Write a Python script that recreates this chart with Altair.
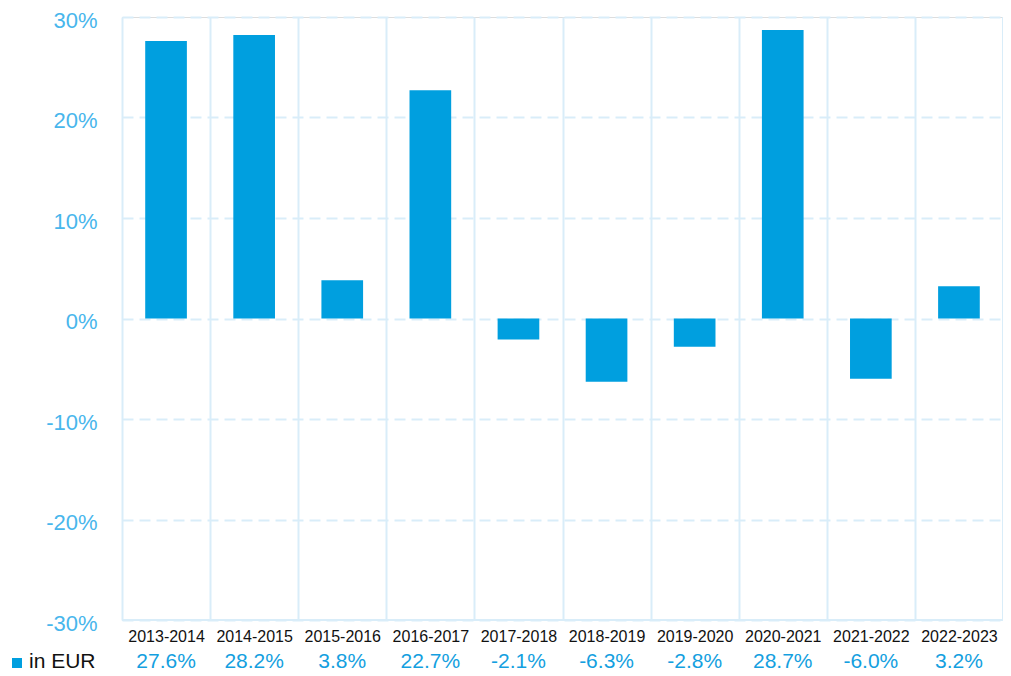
import altair as alt
import pandas as pd

periods = ["2013-2014", "2014-2015", "2015-2016", "2016-2017", "2017-2018",
           "2018-2019", "2019-2020", "2020-2021", "2021-2022", "2022-2023"]
returns = [27.6, 28.2, 3.8, 22.7, -2.1, -6.3, -2.8, 28.7, -6.0, 3.2]
y_ticks = [-30, -20, -10, 0, 10, 20, 30]
series_name = "in EUR"

BAR = "#009fdf"
GRID = "#d9edf9"
LABEL_BLUE = "#48b6ec"
VALUE_BLUE = "#149fe0"
FONT = "Liberation Sans"

W, H = 881, 603

df = pd.DataFrame({
    "period": periods,
    "ret": returns,
    "label": [f"{v:.1f}%" for v in returns],
})
legend_df = pd.DataFrame({"name": [series_name]})

x_enc = alt.X(
    "period:N", sort=periods, title=None,
    scale=alt.Scale(paddingInner=0, paddingOuter=0),
    axis=alt.Axis(
        tickBand="extent", grid=True, gridColor=GRID, gridWidth=2,
        domain=False, ticks=False, labelAngle=0, labelFont=FONT,
        labelFontSize=16, labelColor="#111111", labelPadding=8,
    ),
)

bars = alt.Chart(df).mark_bar(color=BAR, width=alt.RelativeBandSize(0.473)).encode(
    x=x_enc,
    y=alt.Y(
        "ret:Q", title=None,
        scale=alt.Scale(domain=[-30, 30], nice=False),
        axis=alt.Axis(
            values=y_ticks, labelExpr="datum.value + '%'", grid=True,
            gridColor=GRID, gridWidth=2, gridDash=[11, 6], domain=False,
            ticks=False, labelFont=FONT, labelFontSize=22,
            labelColor=LABEL_BLUE, labelPadding=25, labelOffset=3,
            labelBaseline="middle",
        ),
    ),
)

right_edge = alt.Chart(legend_df).mark_rule(color=GRID, strokeWidth=2).encode(
    x=alt.value(W), y=alt.value(0), y2=alt.value(H)
)
bottom_edge = alt.Chart(legend_df).mark_rule(color=GRID, strokeWidth=2).encode(
    x=alt.value(0), x2=alt.value(W), y=alt.value(H)
)

values_text = alt.Chart(df).mark_text(
    font=FONT, fontSize=21, color=VALUE_BLUE, baseline="middle"
).encode(
    x=alt.X("period:N", sort=periods),
    y=alt.value(645),
    text="label:N",
)

legend_sq = alt.Chart(legend_df).mark_square(
    color=BAR, size=100, opacity=1, filled=True
).encode(x=alt.value(-105), y=alt.value(646))

legend_txt = alt.Chart(legend_df).mark_text(
    font=FONT, fontSize=21, color="#111111", align="left", baseline="middle"
).encode(x=alt.value(-93), y=alt.value(645), text="name:N")

chart = alt.layer(bars, right_edge, bottom_edge, values_text, legend_sq, legend_txt).properties(
    width=W, height=H,
    autosize=alt.AutoSizeParams(type="none"),
    padding={"left": 114, "top": 9, "right": 0, "bottom": 56},
).configure_view(stroke=None).configure(background="white")

chart.save("out.html", embed_options={"renderer": "svg", "actions": False})
